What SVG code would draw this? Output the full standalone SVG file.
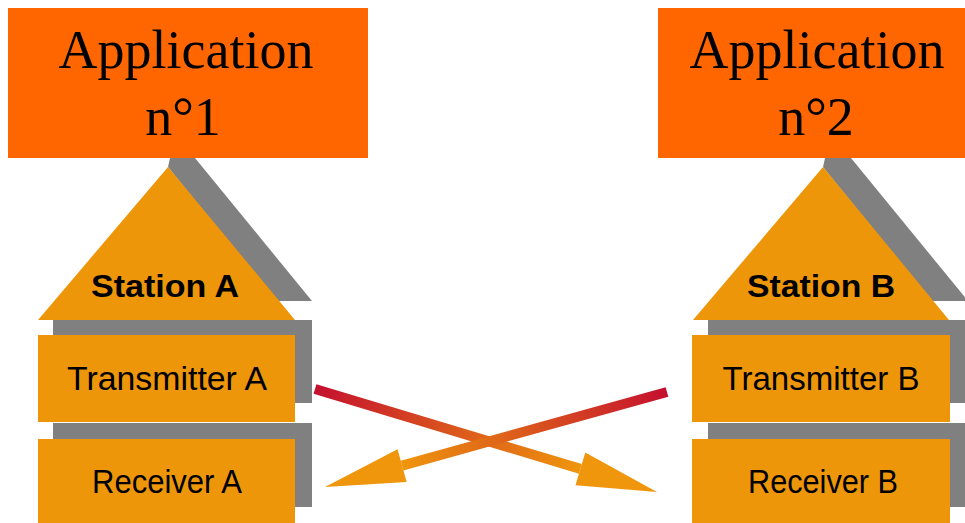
<svg xmlns="http://www.w3.org/2000/svg" width="965" height="523" viewBox="0 0 965 523">
  <style>
    .app { fill: #ff6600; }
    .app-text { font-family: "Liberation Serif", "Times New Roman", serif; font-size: 54px; fill: #000; text-anchor: middle; }
    .body { fill: #ee960a; }
    .shadow { fill: #808080; }
    .title { font-family: "Liberation Sans", Arial, sans-serif; font-size: 32px; font-weight: bold; fill: #000; text-anchor: middle; }
    .label { font-family: "Liberation Sans", Arial, sans-serif; font-size: 33px; fill: #000; text-anchor: middle; }
    .link { fill: none; stroke-width: 10; stroke-linecap: butt; }
  </style>
  <defs>
    <marker id="head" markerUnits="userSpaceOnUse" markerWidth="82" markerHeight="36" refX="0" refY="18" orient="auto" viewBox="0 0 82 36" overflow="visible">
      <path d="M0,1 L80,18 L0,35 Z" fill="#ef960c"/>
    </marker>
    <linearGradient id="g1" gradientUnits="userSpaceOnUse" x1="315" y1="389" x2="580" y2="469">
      <stop offset="0" stop-color="#c4102f"/>
      <stop offset="1" stop-color="#ef960c"/>
    </linearGradient>
    <linearGradient id="g2" gradientUnits="userSpaceOnUse" x1="667" y1="392" x2="402" y2="466">
      <stop offset="0" stop-color="#c4102f"/>
      <stop offset="1" stop-color="#ef960c"/>
    </linearGradient>
  </defs>

  <rect width="965" height="523" fill="#fff"/>

  <!-- Station A -->
  <g id="station-a">
    <polygon class="shadow" points="168,167 170,158 195,158 312,301 276,301"/>
    <rect class="shadow" x="53" y="320" width="259" height="83"/>
    <rect class="shadow" x="53" y="423" width="259" height="84"/>
    <polygon class="body" points="168,167 295,320 38,320"/>
    <text class="title" x="165" y="297" textLength="148" lengthAdjust="spacingAndGlyphs">Station A</text>
  </g>
  <g id="transmitter-a">
    <rect class="body" x="38" y="335" width="257" height="87"/>
    <text class="label" x="167" y="390" textLength="200" lengthAdjust="spacingAndGlyphs">Transmitter A</text>
  </g>
  <g id="receiver-a">
    <rect class="body" x="38" y="439" width="257" height="90"/>
    <text class="label" x="167" y="493" textLength="150" lengthAdjust="spacingAndGlyphs">Receiver A</text>
  </g>
  <g id="app-1">
    <rect class="app" x="8" y="8" width="360" height="150"/>
    <text class="app-text" x="186" y="68">Application</text>
    <text class="app-text" x="183" y="135">n°1</text>
  </g>

  <!-- Station B -->
  <g id="station-b">
    <polygon class="shadow" points="823,167 825,158 851,158 968,301 931,301"/>
    <rect class="shadow" x="708" y="320" width="262" height="83"/>
    <rect class="shadow" x="708" y="423" width="262" height="84"/>
    <polygon class="body" points="823,167 949,320 693,320"/>
    <text class="title" x="821" y="297" textLength="148" lengthAdjust="spacingAndGlyphs">Station B</text>
  </g>
  <g id="transmitter-b">
    <rect class="body" x="692" y="335" width="258" height="87"/>
    <text class="label" x="821" y="390" textLength="197" lengthAdjust="spacingAndGlyphs">Transmitter B</text>
  </g>
  <g id="receiver-b">
    <rect class="body" x="692" y="439" width="258" height="90"/>
    <text class="label" x="823" y="493" textLength="150" lengthAdjust="spacingAndGlyphs">Receiver B</text>
  </g>
  <g id="app-2">
    <rect class="app" x="658" y="8" width="320" height="150"/>
    <text class="app-text" x="817" y="68">Application</text>
    <text class="app-text" x="816" y="135">n°2</text>
  </g>

  <!-- Crossed links between the stations -->
  <g id="connectors">
    <line class="link" stroke="url(#g1)" x1="315" y1="389" x2="580.4" y2="468.9" marker-end="url(#head)"/>
    <line class="link" stroke="url(#g2)" x1="667" y1="392" x2="402.1" y2="465.6" marker-end="url(#head)"/>
  </g>
</svg>
